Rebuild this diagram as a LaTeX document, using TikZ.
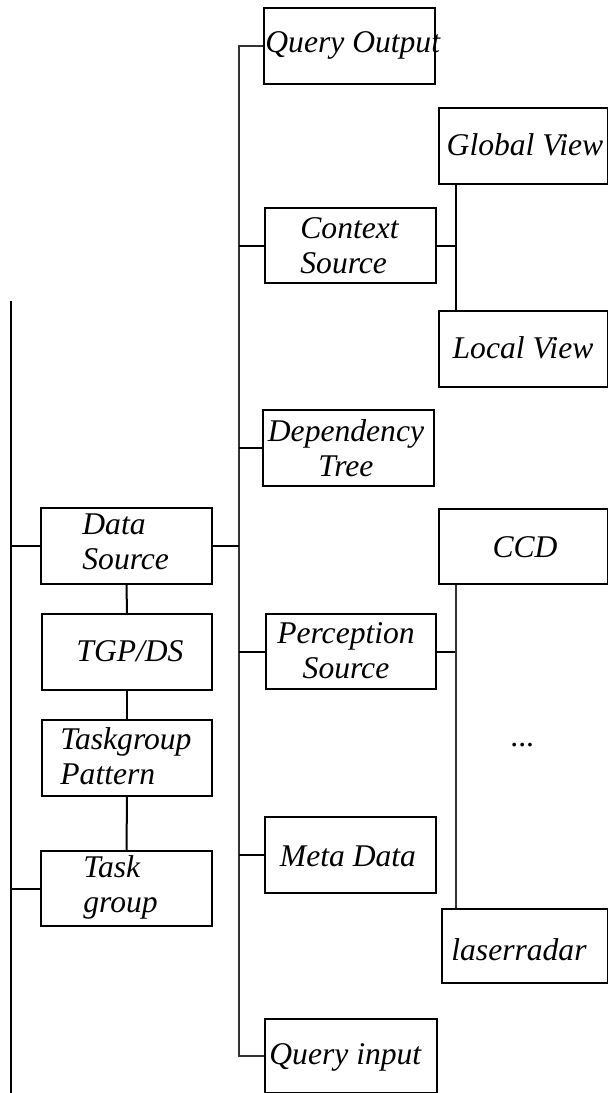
\documentclass[tikz,border=0pt]{standalone}
\usepackage{fontspec}
\setmainfont{Liberation Serif}
\begin{document}
\begin{tikzpicture}[x=0.5pt,y=-0.5pt,
  box/.style={draw, line width=1pt, anchor=north west, inner sep=0pt},
  lbl/.style={inner sep=0pt, font=\itshape\fontsize{15.8}{17.5}\selectfont},
  link/.style={line width=1pt},
  thinlink/.style={line width=0.55pt, draw=black!80}]
\useasboundingbox (0,0) rectangle (608,1093);

% boxes: corner, width, height (in px units)
\newcommand\boxat[5]{\node[box, minimum width=#4*0.5pt, minimum height=#5*0.5pt] (#1) at (#2,#3) {};}
\boxat{qo}{263}{7}{171}{76}
\boxat{gv}{438}{107}{169}{76}
\boxat{cs}{264}{207}{171}{75}
\boxat{lv}{438}{310}{169}{76}
\boxat{dt}{262}{409}{171}{76}
\boxat{ds}{40}{507}{171}{76}
\boxat{ccd}{438}{508}{169}{75}
\boxat{tgp}{41}{613}{170}{76}
\boxat{ps}{265}{613}{170}{75}
\boxat{tp}{41}{719}{170}{76}
\boxat{md}{264}{816}{171}{76}
\boxat{tk}{40}{850}{171}{75}
\boxat{lr}{441}{908}{166}{74}
\boxat{qi}{264}{1018}{172}{74}

% labels
\node[lbl, anchor=west] (tqo) at (265,45) {Query Output};
\node[lbl] (tgv) at (525,145) {Global View};
\node[lbl, anchor=west, align=left] (tcs) at (300,246) {Context\\Source};
\node[lbl] (tlv) at (523,348) {Local View};
\node[lbl, align=center] (tdt) at (346,448) {Dependency\\Tree};
\node[lbl, anchor=west, align=left] (tds) at (82,542) {Data\\Source};
\node[lbl] (tccd) at (525,547) {CCD};
\node[lbl] (ttgp) at (130,651) {TGP/DS};
\node[lbl, align=center] (tps) at (346,651) {Perception\\Source};
\node[lbl, anchor=west, align=left] (ttp) at (60,756) {Taskgroup\\Pattern};
\node[lbl] (tdots) at (523,745) {...};
\node[lbl] (tmd) at (348,856) {Meta Data};
\node[lbl, anchor=west, align=left] (ttk) at (83,887) {Task\\group};
\node[lbl] (tlr) at (519,950) {laserradar};
\node[lbl, anchor=west] (tqi) at (269,1057) {Query input};

% spines
\coordinate (ltop) at (11,301);
\coordinate (lbot) at (11,1093);
\coordinate (trunk) at (239,0);
\coordinate (fork) at (456,0);

\draw[link] (ltop) -- (lbot);
\draw[link] (ltop |- ds.west) -- (ds.west);
\draw[link] (ltop |- tk.west) -- (tk.west);

\draw[link] (ds.south) -- (tgp.north);
\draw[link] (tgp.south) -- (tp.north);
\draw[link] (tp.south) -- (tk.north);

\draw[thinlink] (qo.west) -- (qo.west -| trunk) -- (qi.west -| trunk) -- (qi.west);
\draw[link] (ds.east) -- (ds.east -| trunk);
\draw[link] (cs.west -| trunk) -- (cs.west);
\draw[link] (dt.west -| trunk) -- (dt.west);
\draw[link] (ps.west -| trunk) -- (ps.west);
\draw[link] (md.west -| trunk) -- (md.west);

\draw[link] (cs.east) -- (cs.east -| fork);
\draw[link] (gv.south -| fork) -- (lv.north -| fork);
\draw[link] (ps.east) -- (ps.east -| fork);
\draw[thinlink] (ccd.south -| fork) -- (lr.north -| fork);
\end{tikzpicture}
\end{document}
